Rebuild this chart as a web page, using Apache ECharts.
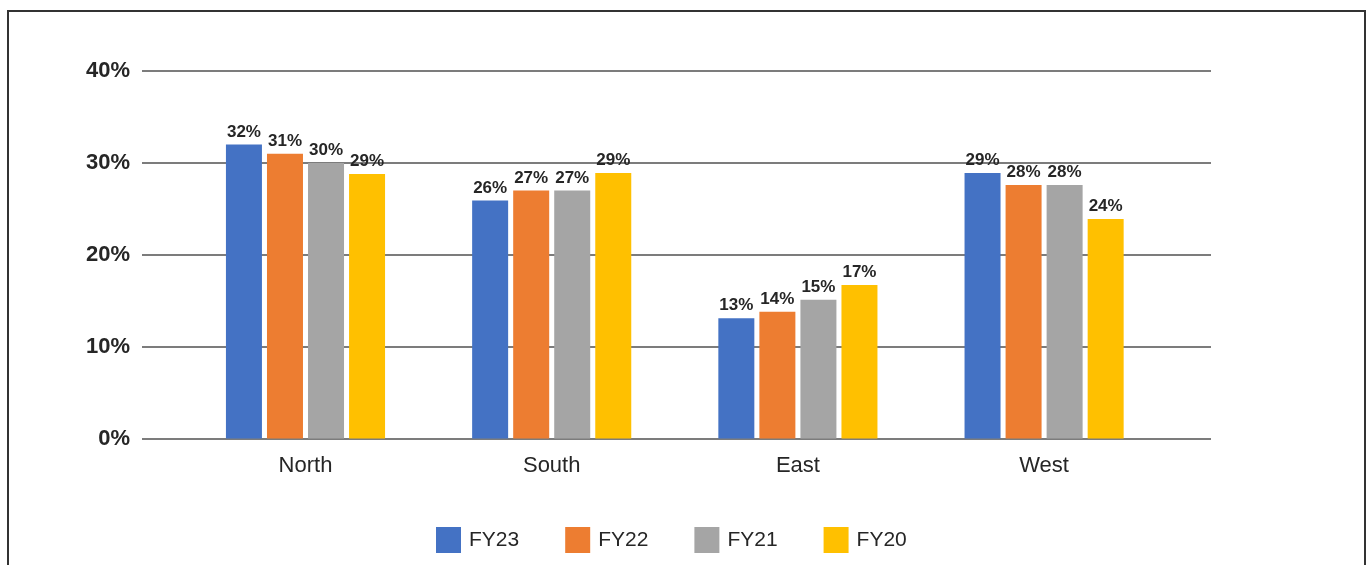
<!DOCTYPE html>
<html>
<head>
<meta charset="utf-8">
<script src="https://cdn.jsdelivr.net/npm/echarts@6/dist/echarts.min.js"></script>
<style>
  html, body { margin: 0; padding: 0; background: #fff; }
  #chart { width: 1370px; height: 565px; }
</style>
</head>
<body>
<div id="chart"></div>
<script>
// Regions on the category axis
const regions = ['North', 'South', 'East', 'West'];

// Share by region for each fiscal year (percent)
const fy23 = [32.0, 25.9, 13.1, 28.9];
const fy22 = [31.0, 27.0, 13.8, 27.6];
const fy21 = [30.0, 27.0, 15.1, 27.6];
const fy20 = [28.8, 28.9, 16.7, 23.9];

const seriesNames = ['FY23', 'FY22', 'FY21', 'FY20'];
const seriesColors = ['#4472C4', '#ED7D31', '#A5A5A5', '#FFC000'];

// Value axis ticks
const yMin = 0, yMax = 40, yStep = 10;

const FONT = '"Liberation Sans", Arial, sans-serif';

const chart = echarts.init(document.getElementById('chart'), null, { renderer: 'canvas' });

const values = [fy23, fy22, fy21, fy20];

const option = {
  backgroundColor: '#ffffff',
  animation: false,
  graphic: [{
    type: 'rect',
    shape: { x: 8, y: 11, width: 1357, height: 600 },
    style: { fill: 'none', stroke: '#333333', lineWidth: 2 },
    silent: true
  }],
  grid: [
    // frame with value axis and gridlines
    { left: 142, right: 159, top: 71, bottom: 126.5 },
    // bar area, narrower than the gridlines
    { left: 182.4, right: 202.8, top: 71, bottom: 126.5 }
  ],
  legend: {
    data: seriesNames,
    left: 436,
    top: 527,
    padding: 0,
    itemWidth: 25,
    itemHeight: 26,
    itemGap: 46,
    icon: 'rect',
    textStyle: { fontFamily: FONT, fontSize: 21, color: '#262626', padding: [0, 0, 0, 3] }
  },
  xAxis: [
    { type: 'category', gridIndex: 0, data: regions, show: false },
    {
      type: 'category', gridIndex: 1, data: regions,
      axisLine: { show: false },
      axisTick: { show: false },
      axisLabel: { fontFamily: FONT, fontSize: 22, color: '#262626', margin: 16 }
    }
  ],
  yAxis: [
    {
      type: 'value', gridIndex: 0, min: yMin, max: yMax, interval: yStep,
      axisLine: { show: false },
      axisTick: { show: false },
      splitLine: { lineStyle: { color: '#505050', width: 1.5 } },
      axisLabel: {
        fontFamily: FONT, fontSize: 22, fontWeight: 'bold', color: '#262626',
        margin: 12, padding: [0, 0, 8, 0],
        formatter: v => v + '%'
      }
    },
    { type: 'value', gridIndex: 1, min: yMin, max: yMax, interval: yStep, show: false }
  ],
  series: values.map((arr, i) => ({
    name: seriesNames[i],
    type: 'bar',
    xAxisIndex: 1,
    yAxisIndex: 1,
    data: arr,
    barWidth: 36,
    barGap: '14%',
    itemStyle: { color: seriesColors[i] },
    label: {
      show: true,
      position: 'top',
      distance: 4,
      fontFamily: FONT,
      fontSize: 17,
      fontWeight: 'bold',
      color: '#262626',
      formatter: p => Math.round(p.value) + '%'
    }
  }))
};

chart.setOption(option);
</script>
</body>
</html>
